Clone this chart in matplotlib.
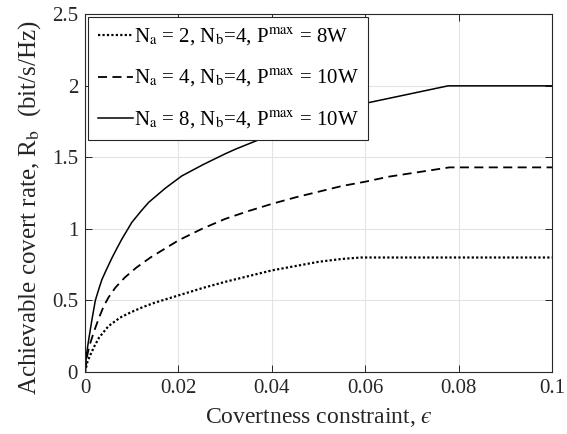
import matplotlib
matplotlib.use("Agg")
import matplotlib.pyplot as plt

plt.rcParams['font.family'] = ['Liberation Serif', 'DejaVu Serif']
plt.rcParams['mathtext.fontset'] = 'stix'

# values
eps_a2 = [0, 0.0005, 0.001, 0.002, 0.003, 0.005, 0.0075, 0.01, 0.0125, 0.015,
          0.02, 0.025, 0.03, 0.035, 0.04, 0.045, 0.05, 0.055, 0.059, 0.07,
          0.08, 0.09, 0.1]
rate_a2 = [0, 0.07, 0.11, 0.18, 0.24, 0.32, 0.38, 0.42, 0.455, 0.485,
           0.535, 0.585, 0.63, 0.67, 0.71, 0.74, 0.77, 0.79, 0.80, 0.80,
           0.80, 0.80, 0.80]

eps_a4 = [0, 0.0005, 0.001, 0.002, 0.003, 0.004, 0.005, 0.0065, 0.0085, 0.011,
          0.014, 0.017, 0.02, 0.025, 0.03, 0.035, 0.04, 0.045, 0.05, 0.055,
          0.06, 0.065, 0.07, 0.078, 0.1]
rate_a4 = [0, 0.12, 0.19, 0.29, 0.38, 0.46, 0.52, 0.59, 0.66, 0.73,
           0.80, 0.86, 0.92, 1.0, 1.07, 1.125, 1.175, 1.22, 1.26, 1.30,
           1.33, 1.365, 1.39, 1.43, 1.43]

eps_a8 = [0, 0.0003, 0.0008, 0.0015, 0.0022, 0.003, 0.0036, 0.0045, 0.0058, 0.007,
          0.0079, 0.01, 0.012, 0.0136, 0.0172, 0.0207, 0.0253, 0.03, 0.0324, 0.04,
          0.045, 0.05, 0.055, 0.0603, 0.0777, 0.1]
rate_a8 = [0, 0.12, 0.23, 0.37, 0.50, 0.585, 0.645, 0.71, 0.80, 0.875,
           0.93, 1.045, 1.125, 1.185, 1.285, 1.37, 1.45, 1.525, 1.56, 1.66,
           1.72, 1.775, 1.83, 1.88, 2.0, 2.0]

labels = [r'N$_{\rm a}$ = 2, N$_{\rm b}$=4, P$^{\rm max}$ = 8W',
          r'N$_{\rm a}$ = 4, N$_{\rm b}$=4, P$^{\rm max}$ = 10W',
          r'N$_{\rm a}$ = 8, N$_{\rm b}$=4, P$^{\rm max}$ = 10W']

fig = plt.figure(figsize=(5.67, 4.34), dpi=100)
ax = fig.add_axes([0.150, 0.143, 0.824, 0.824])

ax.plot(eps_a2, rate_a2, color='black', linestyle=(0, (1, 1)), linewidth=1.6, label=labels[0])
ax.plot(eps_a4, rate_a4, color='black', linestyle=(0, (5, 3)), linewidth=1.3, label=labels[1])
ax.plot(eps_a8, rate_a8, color='black', linestyle='-', linewidth=1.1, label=labels[2])

ax.set_xlim(0, 0.1)
ax.set_ylim(0, 2.5)
ax.set_xticks([0, 0.02, 0.04, 0.06, 0.08, 0.1])
ax.set_xticklabels(['0', '0.02', '0.04', '0.06', '0.08', '0.1'])
ax.set_yticks([0, 0.5, 1, 1.5, 2, 2.5])
ax.set_yticklabels(['0', '0.5', '1', '1.5', '2', '2.5'])

ax.grid(True, color='#e3e3e3', linewidth=0.8)
ax.set_axisbelow(True)
ax.tick_params(direction='in', top=True, right=True, length=5, width=0.7,
               labelsize=15, colors='#262626', pad=5)
for sp in ax.spines.values():
    sp.set_color('#262626')
    sp.set_linewidth(0.8)

ax.set_xlabel('Covertness constraint, $\u03f5$', fontsize=17, color='#262626', labelpad=6)
ax.set_ylabel(r'Achievable covert rate, R$_{\rm b}$  (bit/s/Hz)', fontsize=18, color='#262626')
ax.yaxis.set_label_coords(-0.09, 0.459)

leg = ax.legend(loc='upper left', fontsize=15, handlelength=1.7, handletextpad=0.05,
                labelspacing=0.98, borderpad=0.45, borderaxespad=0.15,
                fancybox=False, framealpha=1, edgecolor='#262626')
leg.get_frame().set_linewidth(0.8)

fig.savefig('out.png', dpi=100)
